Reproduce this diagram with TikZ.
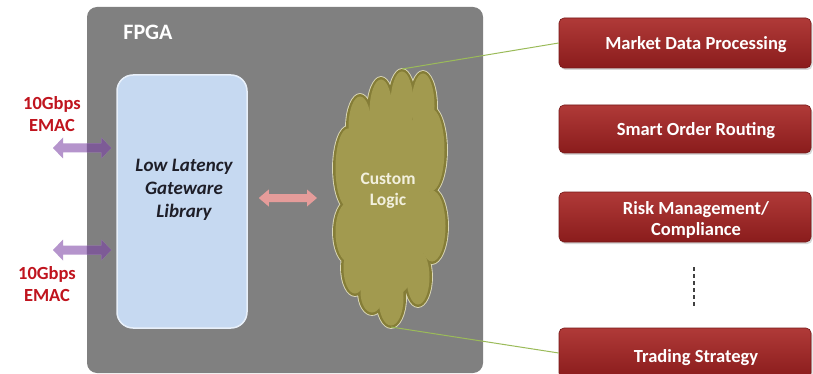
\documentclass[tikz,border=0pt]{standalone}
\usepackage{fontspec}
\setmainfont{Carlito}
\usetikzlibrary{calc,shadows}

\definecolor{fpgagray}{HTML}{808080}
\definecolor{libblue}{HTML}{C6D9F1}
\definecolor{libedge}{HTML}{E8F0FA}
\definecolor{libink}{HTML}{1E1E28}
\definecolor{redtop}{HTML}{B03A38}
\definecolor{redbot}{HTML}{8A1C1C}
\definecolor{emacred}{HTML}{C0141E}
\definecolor{purplelight}{HTML}{B594CC}
\definecolor{purpledark}{HTML}{7D5B96}
\definecolor{pinkarrow}{HTML}{E59C9A}
\definecolor{olivedark}{HTML}{857D37}
\definecolor{olivemain}{HTML}{A29A4F}
\definecolor{oliverim}{HTML}{DCD9B8}
\definecolor{cloudink}{HTML}{F2F0DE}
\definecolor{linkgreen}{HTML}{9BBB59}

% filled double-headed arrow between two points at the height of the first one
% #1 fill, #2 from, #3 to, #4 half shaft, #5 half head, #6 head length
\newcommand{\twowayarrow}[6]{%
  \fill[#1] let \p1=(#2), \p2=(#3) in
    (\x1,\y1) -- (\x1+#6pt,\y1+#5pt) -- (\x1+#6pt,\y1+#4pt) --
    (\x2-#6pt,\y1+#4pt) -- (\x2-#6pt,\y1+#5pt) -- (\x2,\y1) --
    (\x2-#6pt,\y1-#5pt) -- (\x2-#6pt,\y1-#4pt) --
    (\x1+#6pt,\y1-#4pt) -- (\x1+#6pt,\y1-#5pt) -- cycle;}

% lobes of the cloud: centre x / centre y / x radius / y radius
\def\lobes{360/127/14/33, 381/112/14/35, 402/104/14/35, 423/106/14/35,
  431/150/16/44, 432/226/16/38, 418/277/14/30, 391/298/15/30,
  372/292/14/23, 355/268/14/28, 348/232/15/32, 348/168/15/42,
  390/200/42/100}

\begin{document}
\begin{tikzpicture}[x=1pt,y=-1pt,
  fpgabox/.style={fill=fpgagray, rounded corners=10pt, inner sep=0pt},
  libbox/.style={fill=libblue, draw=libedge, line width=1.5pt,
    rounded corners=16pt, inner sep=0pt,
    drop shadow={shadow xshift=2pt, shadow yshift=-3pt, opacity=0.35}},
  libtext/.style={text=libink, align=center,
    font=\bfseries\itshape\fontsize{19}{23}\selectfont},
  emac/.style={text=emacred, align=center,
    font=\bfseries\fontsize{18.5}{22}\selectfont},
  taskbox/.style={top color=redtop, bottom color=redbot,
    draw=redbot!85!black, line width=0.6pt, rounded corners=5pt,
    minimum width=252pt, inner sep=0pt,
    drop shadow={shadow xshift=1.5pt, shadow yshift=-2pt, opacity=0.3}},
  tasktext/.style={text=white, align=center,
    font=\bfseries\fontsize{18.5}{21.5}\selectfont},
  link/.style={draw=linkgreen, line width=1pt},
  dots/.style={draw=black!75, line width=2pt, dash pattern=on 4pt off 3pt},
  cloudrim/.style={draw=oliverim, line width=1.8pt},
]
\useasboundingbox (0,0) rectangle (813,374);
\fill[white] (0,0) rectangle (813,374);

% FPGA frame
\node[fpgabox, minimum width=396pt, minimum height=366pt] (fpga) at (285,190) {};
\node[text=white, font=\bfseries\fontsize{22}{26}\selectfont] (fpgalabel) at (148,32) {FPGA};

% gateware library block
\node[libbox, minimum width=130pt, minimum height=253pt] (lib) at (182,201.5) {};
\node[libtext] (libtext) at (184,190) {Low Latency\\Gateware\\Library};

% Ethernet MAC ports
\node[emac] (emac1) at (52,114) {10Gbps\\EMAC};
\node[emac] (emac2) at (47,284) {10Gbps\\EMAC};
\coordinate (p1a) at (53,148);
\coordinate (p2a) at (53,250);
\path (lib.west |- p1a) ++(-5,0) coordinate (p1b);
\path (lib.west |- p2a) ++(-5,0) coordinate (p2b);
\twowayarrow{purplelight}{p1a}{p1b}{4.5}{10.5}{10}
\twowayarrow{purplelight}{p2a}{p2b}{4.5}{10.5}{10}
\begin{scope}
  \clip (fpga.south west) rectangle (fpga.north east);
  \twowayarrow{purpledark}{p1a}{p1b}{4.5}{10.5}{10}
  \twowayarrow{purpledark}{p2a}{p2b}{4.5}{10.5}{10}
\end{scope}

% custom logic cloud
\foreach \cx/\cy/\rx/\ry in \lobes {
  \draw[cloudrim] (\cx,\cy) ellipse [x radius=\rx, y radius=\ry];}
\foreach \cx/\cy/\rx/\ry in \lobes {
  \fill[olivedark] (\cx,\cy) ellipse [x radius=\rx, y radius=\ry];}
\foreach \cx/\cy/\rx/\ry in \lobes {
  \pgfmathsetmacro\ra{\rx-2.5}\pgfmathsetmacro\rb{\ry-2.5}
  \fill[olivemain] (\cx,\cy) ellipse [x radius=\ra, y radius=\rb];}
\node[text=cloudink, align=center, font=\bfseries\fontsize{17.5}{21}\selectfont]
  (cltext) at (388,191) {Custom\\Logic};
\coordinate (clw) at (331,198);
\coordinate (cltop) at (402,69);
\coordinate (clbot) at (391,327);

% library <-> custom logic
\path (lib.east |- clw) ++(11,0) coordinate (qa);
\path (clw) ++(-14,0) coordinate (qb);
\twowayarrow{pinkarrow}{qa}{qb}{4}{8.5}{10}

% application functions
\node[taskbox, minimum height=50pt] (mdp) at (685,43) {};
\node[tasktext] (mdptext) at ($(mdp.center)+(11,2)$) {Market Data Processing};
\node[taskbox, minimum height=48pt] (sor) at (685,129) {};
\node[tasktext] (sortext) at ($(sor.center)+(11,2)$) {Smart Order Routing};
\node[taskbox, minimum height=50pt] (risk) at (685,217) {};
\node[tasktext] (risktext) at ($(risk.center)+(11,3)$) {Risk Management/\\Compliance};
\node[taskbox, minimum height=50pt] (trade) at (685,353) {};
\node[tasktext] (tradetext) at ($(trade.center)+(11,5)$) {Trading Strategy};

\coordinate (d1) at (694,267);
\coordinate (d2) at (694,308);
\draw[dots] (d1) -- (d2);

% links from the cloud to the function list
\draw[link] (cltop) -- (mdp.west);
\draw[link] (clbot) -- (trade.west);
\end{tikzpicture}
\end{document}
